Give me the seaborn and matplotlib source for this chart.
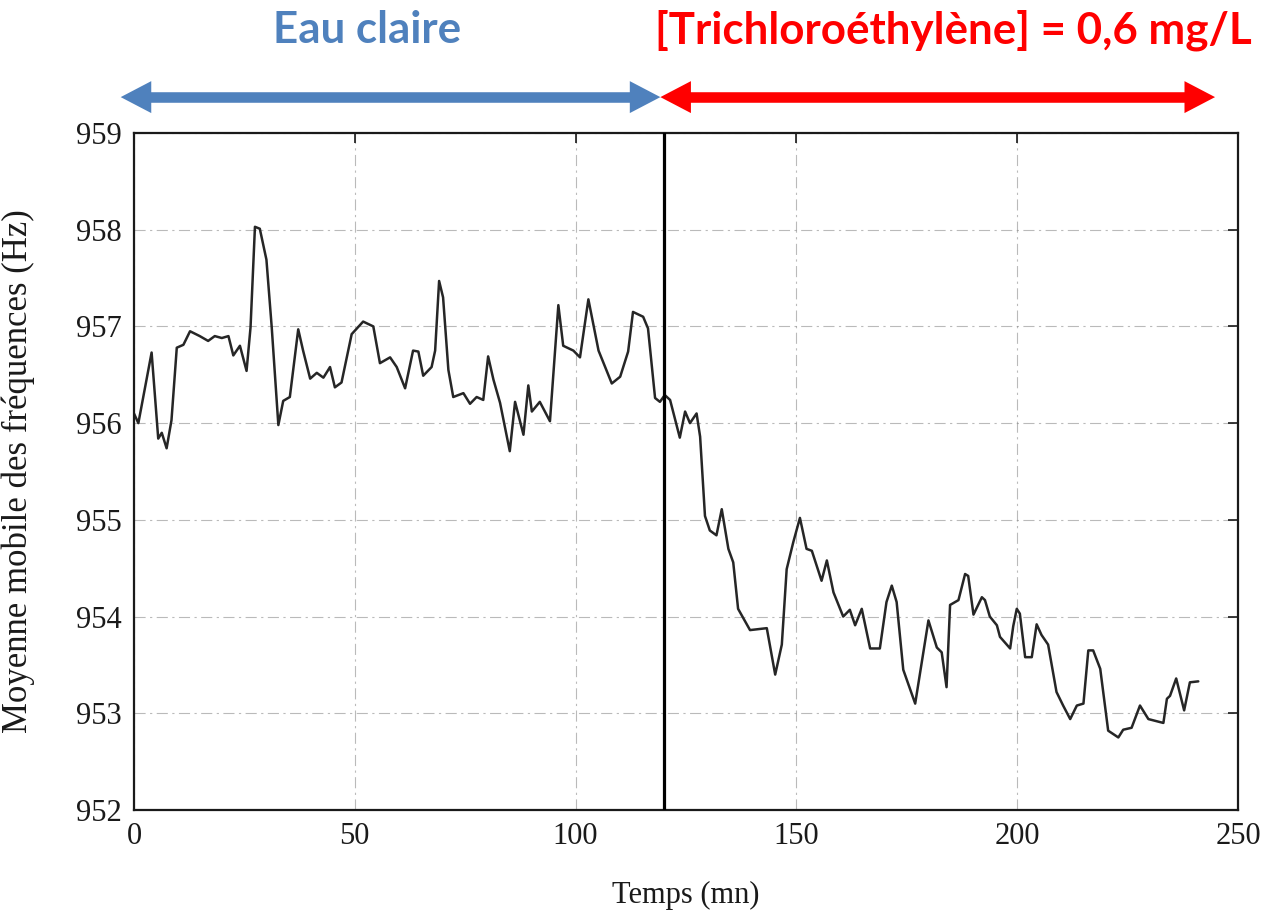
import matplotlib
matplotlib.use("Agg")
import matplotlib.pyplot as plt
from matplotlib.lines import Line2D
import seaborn as sns
import pandas as pd

# ---- data ----
temps = [0.0, 1.0, 4.0, 5.5, 6.3, 7.4, 8.5, 9.7, 11.2, 12.7, 14.9, 16.8, 18.3, 19.9,
         21.4, 22.5, 24.0, 25.5, 26.4, 27.4, 28.5, 30.0, 31.2, 32.7, 33.8, 35.3, 37.2,
         38.3, 39.9, 41.4, 42.9, 44.4, 45.5, 47.0, 49.3, 51.9, 54.2, 55.7, 58.0, 59.5,
         61.4, 63.2, 64.4, 65.5, 67.4, 68.2, 69.1, 70.0, 71.2, 72.3, 74.6, 76.1, 77.6,
         79.1, 80.2, 81.4, 82.9, 85.1, 86.3, 88.2, 89.3, 90.1, 91.9, 94.2, 96.1, 97.2,
         99.5, 101.0, 102.9, 105.2, 108.2, 110.1, 111.9, 113.0, 115.3, 116.4, 118.0,
         119.1, 120.2, 121.4, 123.6, 124.8, 125.9, 127.4, 128.2, 129.3, 130.4, 131.9,
         133.1, 134.6, 135.7, 136.8, 139.5, 143.3, 145.2, 146.7, 147.8, 149.3, 150.8,
         152.3, 153.5, 155.7, 156.9, 158.4, 160.6, 162.1, 163.3, 164.8, 166.7, 168.9,
         170.4, 171.6, 172.7, 174.2, 176.9, 178.4, 179.9, 181.8, 182.9, 184.0, 184.8,
         186.7, 188.2, 188.9, 190.1, 192.0, 192.7, 193.8, 195.4, 196.1, 198.4, 199.1,
         199.9, 200.6, 201.8, 203.3, 204.4, 205.5, 207.0, 208.9, 210.4, 212.0, 213.5,
         215.0, 216.1, 217.2, 218.8, 220.6, 222.9, 224.0, 225.9, 227.8, 229.7, 233.1,
         233.9, 234.6, 236.0, 237.8, 239.1, 241.0]
frequence = [956.10, 956.00, 956.73, 955.84, 955.90, 955.74, 956.03, 956.78, 956.81,
             956.95, 956.90, 956.85, 956.90, 956.88, 956.90, 956.70, 956.80, 956.54,
             956.99, 958.03, 958.01, 957.69, 956.99, 955.98, 956.23, 956.27, 956.97,
             956.75, 956.46, 956.52, 956.47, 956.58, 956.37, 956.42, 956.92, 957.05,
             957.00, 956.62, 956.68, 956.58, 956.36, 956.75, 956.74, 956.49, 956.58,
             956.75, 957.47, 957.30, 956.55, 956.27, 956.31, 956.20, 956.27, 956.24,
             956.69, 956.45, 956.21, 955.71, 956.22, 955.88, 956.39, 956.12, 956.22,
             956.02, 957.22, 956.80, 956.75, 956.68, 957.28, 956.75, 956.41, 956.48,
             956.74, 957.15, 957.10, 956.98, 956.26, 956.22, 956.29, 956.24, 955.85,
             956.12, 956.00, 956.10, 955.86, 955.04, 954.89, 954.84, 955.11, 954.70,
             954.56, 954.08, 953.86, 953.88, 953.40, 953.71, 954.49, 954.77, 955.02,
             954.70, 954.68, 954.37, 954.58, 954.25, 954.00, 954.07, 953.91, 954.08,
             953.67, 953.67, 954.15, 954.32, 954.15, 953.45, 953.10, 953.53, 953.96,
             953.68, 953.63, 953.27, 954.12, 954.17, 954.44, 954.42, 954.02, 954.20,
             954.17, 954.00, 953.91, 953.79, 953.67, 953.90, 954.08, 954.03, 953.58,
             953.58, 953.92, 953.81, 953.71, 953.22, 953.08, 952.94, 953.08, 953.10,
             953.65, 953.65, 953.46, 952.82, 952.75, 952.83, 952.85, 953.08, 952.94,
             952.90, 953.15, 953.18, 953.36, 953.03, 953.32, 953.33]
x_ticks = [0, 50, 100, 150, 200, 250]
y_ticks = [952, 953, 954, 955, 956, 957, 958, 959]
t_injection = 120
periode_labels = ["Eau claire", "[Trichloroéthylène] = 0,6 mg/L"]
periode_bornes = [(-3, 119.2), (119.2, 244.8)]
periode_colors = ["#4F81BD", "#FF0000"]

df = pd.DataFrame({"Temps": temps, "Freq": frequence})

sns.set_style("white")
plt.rcParams["font.family"] = ["Liberation Serif", "DejaVu Serif"]

fig = plt.figure(figsize=(12.66, 9.14), dpi=100)
ax = fig.add_axes([0.1058, 0.1138, 0.8721, 0.7407])

sns.lineplot(data=df, x="Temps", y="Freq", ax=ax, color="#262626",
             linewidth=1.8, estimator=None, sort=False)

ax.axvline(t_injection, color="black", linewidth=2.3, zorder=4)

ax.set_xlim(0, 250)
ax.set_ylim(952, 959)
ax.set_xticks(x_ticks)
ax.set_yticks(y_ticks)
ax.set_xticklabels([str(v) for v in x_ticks])
ax.set_yticklabels([str(v) for v in y_ticks])
ax.grid(True, color="#8c8c8c", linewidth=0.8, linestyle=(0, (10, 4, 2, 4)), alpha=0.6)
ax.tick_params(axis="both", direction="in", length=7, width=1.2, labelsize=22,
               colors="#1a1a1a", top=True, right=True, pad=9)
for s in ax.spines.values():
    s.set_visible(True)
    s.set_color("#1a1a1a")
    s.set_linewidth(1.6)

ax.set_xlabel("Temps (mn)", fontsize=22, color="#1a1a1a")
ax.set_ylabel("Moyenne mobile des fréquences (Hz)", fontsize=25, color="#1a1a1a")
ax.xaxis.set_label_coords(0.5, -0.105)
ax.yaxis.set_label_coords(-0.0897, 0.5)

# double-headed arrows above the plot: a straight shaft + two filled heads
trans = ax.get_xaxis_transform()
y_arrow = 1.053
head_style = "simple,head_length=2.2,head_width=2.3,tail_width=0.01"
for (a, b), col in zip(periode_bornes, periode_colors):
    ax.add_line(Line2D([a + 5.5, b - 5.5], [y_arrow, y_arrow], transform=trans,
                       clip_on=False, color=col, linewidth=7.6,
                       solid_capstyle="butt"))
    for end, start in ((a, a + 7.3), (b, b - 7.3)):
        ax.annotate("", xy=(end, y_arrow), xytext=(start, y_arrow), xycoords=trans,
                    textcoords=trans, annotation_clip=False,
                    arrowprops=dict(arrowstyle=head_style, mutation_scale=10, lw=0,
                                    color=col, shrinkA=0, shrinkB=0))

# headings, fitted to the reference widths
targets = [(367, 188), (953, 597)]
renderer = fig.canvas.get_renderer()
for lab, col, (cx, w) in zip(periode_labels, periode_colors, targets):
    t = fig.text(cx / 1266, 1 - 30 / 914, lab, ha="center", va="center",
                 color=col, fontsize=30, fontweight="bold",
                 family=["Lato", "DejaVu Sans"])
    bw = t.get_window_extent(renderer=renderer).width
    t.set_fontsize(30 * w / bw)

fig.savefig("out.png", dpi=100)
